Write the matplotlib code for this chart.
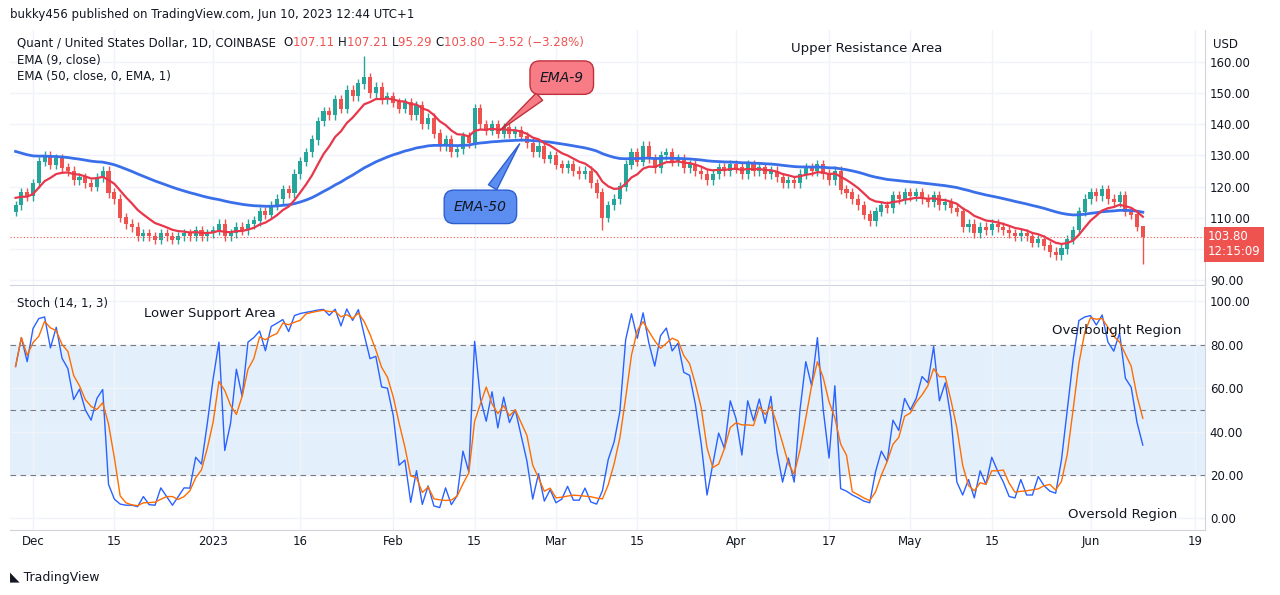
import numpy as np
import matplotlib.pyplot as plt

# daily closes, Nov 28 2022 .. Jun 10 2023
nov = [114, 118, 117]
dec = [121, 128, 130, 127, 129, 126, 125, 122, 123, 121, 120, 123, 125, 118, 116, 110,
       108, 107, 104, 105, 104, 103, 105, 104, 103, 104, 105, 104, 106, 104, 105]
jan = [106, 108, 104, 105, 107, 106, 108, 109, 112, 111, 114, 116, 119, 118, 124, 128,
       131, 135, 141, 144, 143, 148, 145, 151, 149, 153, 155, 150, 152, 148, 149]
feb = [147, 145, 147, 143, 146, 140, 142, 137, 133, 135, 131, 132, 136, 134, 145, 140,
       138, 140, 137, 139, 137, 138, 136, 134, 131, 133, 129, 130]
mar = [127, 126, 127, 125, 124, 125, 121, 118, 110, 114, 116, 120, 127, 131, 128, 133,
       129, 126, 130, 131, 128, 129, 126, 127, 125, 124, 122, 124, 126, 125, 127]
apr = [126, 124, 127, 125, 126, 124, 125, 123, 121, 122, 121, 124, 126, 125, 127, 124,
       122, 125, 119, 118, 116, 114, 111, 109, 112, 114, 113, 117, 116, 118]
may = [117, 118, 116, 115, 117, 114, 115, 113, 112, 107, 108, 105, 107, 106, 108, 107,
       106, 105, 104, 105, 104, 102, 103, 101, 99, 98, 100, 103, 106, 112, 116]
jun = [118, 117, 119, 116, 115, 117, 112, 111, 107.11, 103.80]

closes = np.array(nov + dec + jan + feb + mar + apr + may + jun, dtype=float)
days = np.arange(len(closes)) - 3  # day 0 = Dec 1
opens = np.r_[closes[0] - 2, closes[:-1]]
highs = np.maximum(opens, closes) + 1.5
lows = np.minimum(opens, closes) - 1.5
# a few long wicks
highs[days == 57] = 162
lows[days == 98] = 106
highs[-1], lows[-1] = 107.21, 95.29

tick_pos = [0, 14, 31, 46, 62, 76, 90, 104, 121, 137, 151, 165, 182, 200]
tick_lab = ["Dec", "15", "2023", "16", "Feb", "15", "Mar", "15", "Apr", "17", "May", "15", "Jun", "19"]


def ema(x, n, seed):
    a = 2 / (n + 1)
    out = np.empty_like(x)
    prev = seed
    for i, v in enumerate(x):
        prev = a * v + (1 - a) * prev
        out[i] = prev
    return out


ema9 = ema(closes, 9, 117)
ema50 = ema(closes, 50, 132)

k = np.empty_like(closes)
for i in range(len(closes)):
    lo = lows[max(0, i - 13):i + 1].min()
    hi = highs[max(0, i - 13):i + 1].max()
    k[i] = 100 * (closes[i] - lo) / (hi - lo)
d = np.convolve(k, np.ones(3) / 3, mode="full")[:len(k)]
d[:2] = k[:2]

UP, DN = "#26a69a", "#ef5350"
GRID = "#f0f3fa"
TXT = "#131722"

fig = plt.figure(figsize=(12.8, 5.95), dpi=100)
ax = fig.add_axes([0.0078, 0.521, 0.9336, 0.4286])
ax2 = fig.add_axes([0.0078, 0.109, 0.9336, 0.408], sharex=ax)

for a in (ax, ax2):
    a.set_xlim(-3.96, 201.7)
    a.grid(True, color=GRID, lw=1)
    a.set_axisbelow(True)
    for s in ("top", "left"):
        a.spines[s].set_visible(False)
    for s in ("right", "bottom"):
        a.spines[s].set_color("#d1d4dc")
    a.yaxis.tick_right()
    a.tick_params(length=0, labelsize=8.5, colors=TXT)

# candles
col = np.where(closes >= opens, UP, DN)
ax.vlines(days, lows, highs, color=col, lw=1)
ax.bar(days, np.abs(closes - opens) + 0.15, bottom=np.minimum(opens, closes), width=0.7, color=col)
ax.plot(days, ema50, color="#3a6fea", lw=2)
ax.plot(days, ema9, color="#e8374b", lw=1.6)
ax.axhline(103.8, color="#ef5350", lw=0.8, ls=(0, (1, 2)))
ax.set_ylim(88.4, 170.3)
ax.set_yticks(range(90, 161, 10))
ax.set_yticklabels([("" if v == 100 else f"{v:.2f}") for v in range(90, 161, 10)])
ax.tick_params(axis="x", labelbottom=False)
ax.text(1.007, 0.97, "USD", transform=ax.transAxes, fontsize=8.5, color=TXT, va="top")
ax.text(1.002, 0.16, "103.80\n12:15:09", transform=ax.transAxes, fontsize=8.5, color="white",
        va="center", bbox=dict(boxstyle="square,pad=0.3", fc="#ef5350", ec="none"))

# header legend
segs = [("Quant / United States Dollar, 1D, COINBASE  ", TXT), ("O", TXT), ("107.11 ", DN),
        ("H", TXT), ("107.21 ", DN), ("L", TXT), ("95.29 ", DN), ("C", TXT), ("103.80 ", DN),
        ("\u22123.52 (\u22123.28%)", DN)]
t = ax.text(0.006, 0.975, segs[0][0], transform=ax.transAxes, fontsize=8.5, color=segs[0][1], va="top")
for s, c in segs[1:]:
    t = ax.annotate(s, xy=(1, 0), xycoords=t, fontsize=8.5, color=c, va="bottom")
ax.text(0.006, 0.905, "EMA (9, close)", transform=ax.transAxes, fontsize=8.5, color=TXT, va="top")
ax.text(0.006, 0.845, "EMA (50, close, 0, EMA, 1)", transform=ax.transAxes, fontsize=8.5, color=TXT, va="top")
ax.text(143.5, 164.3, "Upper Resistance Area", fontsize=9.5, color=TXT, ha="center", va="center")

ax.annotate("EMA-9", xy=(80, 137.5), xytext=(91, 155), fontsize=10, style="italic", color=TXT,
            ha="center", va="center",
            bbox=dict(boxstyle="round,pad=0.7", fc="#f77c86", ec="#c0303c"),
            arrowprops=dict(arrowstyle="wedge,tail_width=0.7", fc="#f77c86", ec="#c0303c"))
ax.annotate("EMA-50", xy=(84, 134.5), xytext=(77, 113.5), fontsize=10, style="italic", color=TXT,
            ha="center", va="center",
            bbox=dict(boxstyle="round,pad=0.7", fc="#5b8ef0", ec="#2d5fd0"),
            arrowprops=dict(arrowstyle="wedge,tail_width=0.7", fc="#5b8ef0", ec="#2d5fd0"))

# stochastic
ax2.axhspan(20, 80, color="#e3f0fc", zorder=0)
for lvl in (80, 50, 20):
    ax2.axhline(lvl, color="#787b86", lw=0.8, ls=(0, (5, 4)))
ax2.plot(days, k, color="#2962ff", lw=1)
ax2.plot(days, d, color="#ff6d00", lw=1)
ax2.set_ylim(-5.5, 106.5)
ax2.set_yticks(range(0, 101, 20))
ax2.set_yticklabels([f"{v:.2f}" for v in range(0, 101, 20)])
ax2.set_xticks(tick_pos)
ax2.set_xticklabels(tick_lab)
ax2.text(0.006, 0.96, "Stoch (14, 1, 3)", transform=ax2.transAxes, fontsize=8.5, color=TXT, va="top")
ax2.text(30.5, 93, "Lower Support Area", fontsize=9.5, color=TXT, ha="center")
ax2.text(186.5, 85, "Overbought Region", fontsize=9.5, color=TXT, ha="center")
ax2.text(187.5, 0, "Oversold Region", fontsize=9.5, color=TXT, ha="center")

fig.text(0.008, 0.975, "bukky456 published on TradingView.com, Jun 10, 2023 12:44 UTC+1",
         fontsize=8.5, color=TXT, va="center")
fig.text(0.008, 0.03, "\u25e3 TradingView", fontsize=9, color=TXT, va="center")

fig.savefig("out.png", facecolor="white")
